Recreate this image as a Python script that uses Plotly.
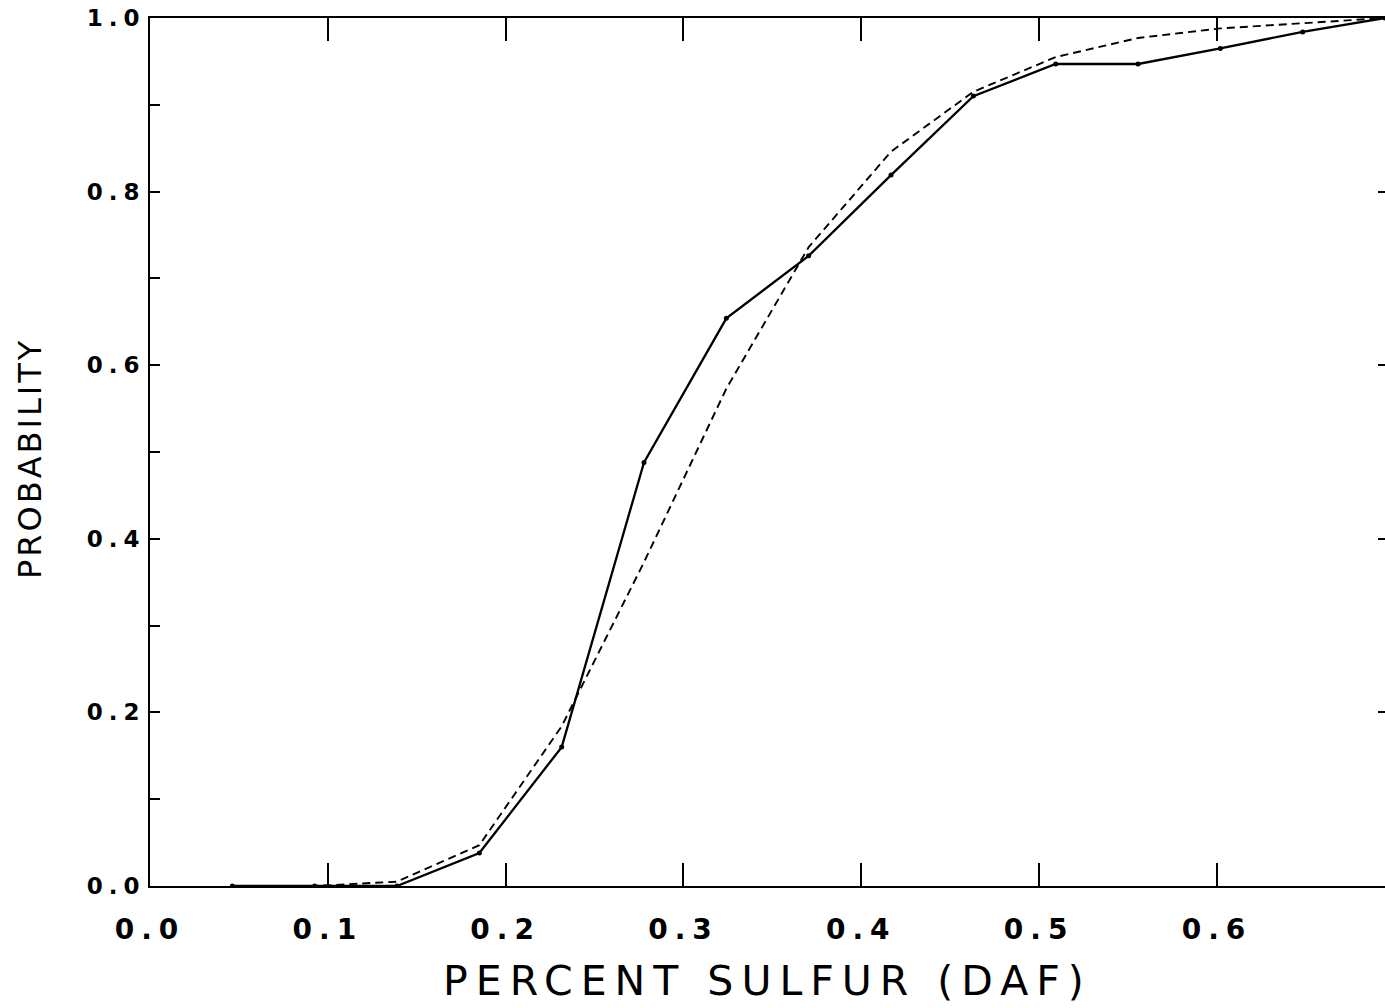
import plotly.graph_objects as go

# Class midpoints (percent sulfur, DAF)
sulfur = [0.0463, 0.0926, 0.1389, 0.1852, 0.2315, 0.2778, 0.3241, 0.3704,
          0.4167, 0.4630, 0.5093, 0.5556, 0.6019, 0.6482, 0.6945]
# Observed cumulative probability (solid line with points)
observed = [0.0, 0.0, 0.0, 0.038, 0.160, 0.488, 0.654, 0.726,
            0.819, 0.910, 0.947, 0.947, 0.965, 0.984, 1.0]
# Fitted cumulative probability (dashed line)
fitted = [0.0, 0.0, 0.005, 0.047, 0.184, 0.373, 0.573, 0.736,
          0.846, 0.915, 0.955, 0.977, 0.988, 0.994, 1.0]

x_ticks = [0.0, 0.1, 0.2, 0.3, 0.4, 0.5, 0.6]
x_ticklabels = ["0.0", "0.1", "0.2", "0.3", "0.4", "0.5", "0.6"]
y_ticks = [0.0, 0.1, 0.2, 0.3, 0.4, 0.5, 0.6, 0.7, 0.8, 0.9, 1.0]
y_ticklabels = ["0.0", "", "0.2", "", "0.4", "", "0.6", "", "0.8", "", "1.0"]
y_right_ticks = [0.2, 0.4, 0.6, 0.8]

FONT = "DejaVu Sans"


def spaced(t, ls):
    if not t:
        return t
    return f'<span style="letter-spacing:{ls}px">{t}</span>'


fig = go.Figure()
fig.add_trace(go.Scatter(
    x=sulfur, y=fitted, mode="lines",
    line=dict(color="black", width=1.9, dash="8px,5px"),
    showlegend=False, hoverinfo="skip"))
fig.add_trace(go.Scatter(
    x=sulfur, y=observed, mode="lines+markers",
    line=dict(color="black", width=2.3),
    marker=dict(color="black", size=5),
    showlegend=False, hoverinfo="skip"))
# helper (invisible) trace to carry the right-hand tick axis
fig.add_trace(go.Scatter(
    x=sulfur, y=observed, yaxis="y2", mode="lines",
    line=dict(color="rgba(0,0,0,0)", width=0),
    showlegend=False, hoverinfo="skip"))

fig.update_layout(
    width=1385, height=1008,
    margin=dict(l=150, r=0, t=18, b=122),
    plot_bgcolor="white", paper_bgcolor="white",
    font=dict(family=FONT, color="black"),
    xaxis=dict(
        range=[0, 0.6945], tickmode="array", tickvals=x_ticks,
        ticktext=[spaced(t, 7) for t in x_ticklabels],
        ticks="inside", ticklen=23, tickwidth=2, tickcolor="black",
        showline=True, linewidth=2, linecolor="black", mirror="ticks",
        showgrid=False, zeroline=False,
        tickfont=dict(family=FONT, size=28, color="black", weight="bold"),
        ticklabelstandoff=17,
    ),
    yaxis=dict(
        range=[0, 1], tickmode="array", tickvals=y_ticks,
        ticktext=[spaced(t, 6) for t in y_ticklabels],
        ticks="inside", ticklen=10, tickwidth=2, tickcolor="black",
        showline=True, linewidth=2, linecolor="black",
        showgrid=False, zeroline=False,
        tickfont=dict(family=FONT, size=23, color="black", weight="bold"),
        ticklabelstandoff=-2,
    ),
    yaxis2=dict(
        range=[0, 1], overlaying="y", side="right", anchor="x",
        tickmode="array", tickvals=y_right_ticks,
        ticks="inside", ticklen=7, tickwidth=2, tickcolor="black",
        showline=False, showticklabels=False, showgrid=False, zeroline=False,
    ),
    annotations=[
        dict(text=spaced("PERCENT SULFUR (DAF)", 8), xref="paper", yref="paper",
             x=0.5, y=(886 - 981) / 868, xanchor="center", yanchor="middle",
             showarrow=False, font=dict(family=FONT, size=41, color="black")),
        dict(text=spaced("PROBABILITY", 3), xref="paper", yref="paper",
             x=(30 - 150) / 1235, y=(886 - 459) / 868, xanchor="center",
             yanchor="middle", textangle=-90, showarrow=False,
             font=dict(family=FONT, size=32, color="black")),
    ],
)

fig.write_html("out.html")
